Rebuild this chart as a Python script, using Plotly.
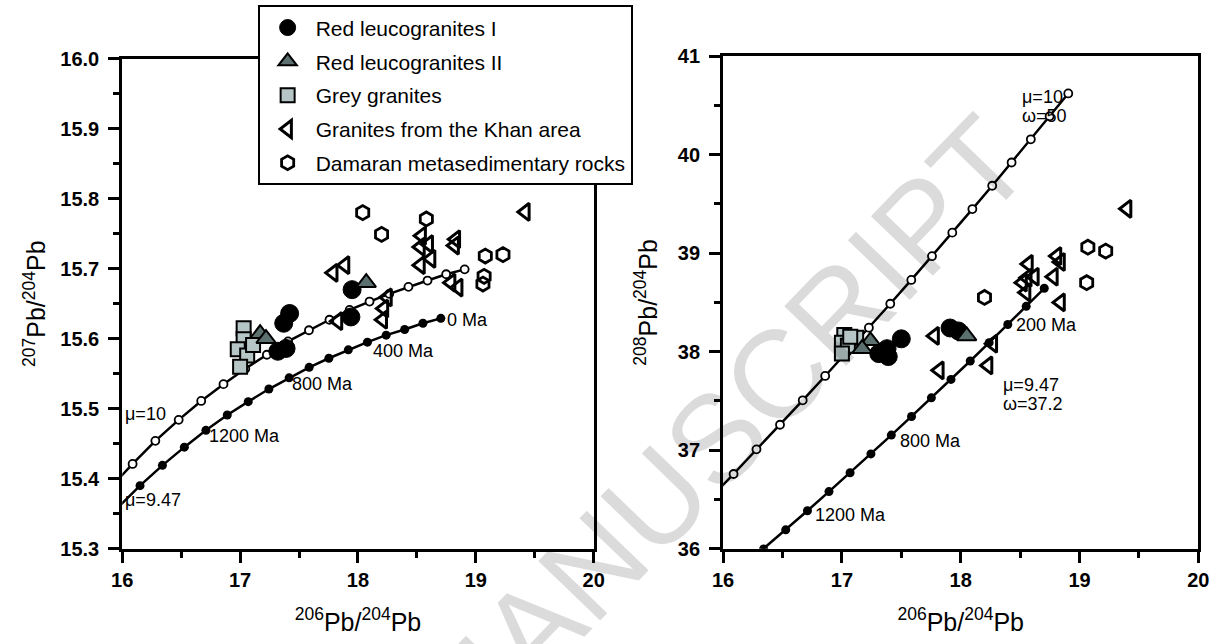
import plotly.graph_objects as go

# Growth-curve nodes, 0-1700 Ma in 100 Ma steps
ages_ma = [0, 100, 200, 300, 400, 500, 600, 700, 800, 900,
           1000, 1100, 1200, 1300, 1400, 1500, 1600, 1700]
pb206_mu10 = [18.905, 18.748, 18.590, 18.428, 18.265, 18.098, 17.929, 17.758, 17.584,
              17.407, 17.227, 17.044, 16.859, 16.670, 16.479, 16.281, 16.088, 15.887]
pb207_mu10 = [15.699, 15.692, 15.683, 15.674, 15.664, 15.653, 15.641, 15.627, 15.612,
              15.596, 15.577, 15.557, 15.535, 15.511, 15.484, 15.454, 15.421, 15.385]
pb208_mu10 = [40.621, 40.389, 40.155, 39.920, 39.684, 39.447, 39.208, 38.969, 38.728,
              38.486, 38.243, 37.998, 37.753, 37.506, 37.258, 37.008, 36.758, 36.506]
pb206_mu947 = [18.703, 18.551, 18.396, 18.239, 18.080, 17.918, 17.753, 17.586, 17.416,
               17.244, 17.069, 16.891, 16.710, 16.527, 16.341, 16.151, 15.959, 15.764]
pb207_mu947 = [15.629, 15.622, 15.613, 15.605, 15.595, 15.584, 15.572, 15.559, 15.544,
               15.528, 15.510, 15.491, 15.469, 15.445, 15.419, 15.390, 15.358, 15.323]
pb208_mu947 = [38.643, 38.460, 38.276, 38.091, 37.905, 37.718, 37.531, 37.342, 37.153,
               36.962, 36.771, 36.579, 36.385, 36.191, 35.996, 35.800, 35.603, 35.405]

# Sample groups: 206Pb/204Pb vs 207Pb/204Pb
rl1_206_a = [17.42, 17.37, 17.32, 17.39, 17.95, 17.94]
rl1_207 = [15.636, 15.622, 15.582, 15.586, 15.670, 15.631]
rl2_206_a = [17.17, 17.22, 18.07]
rl2_207 = [15.607, 15.600, 15.680]
grey_206_a = [17.03, 17.03, 16.98, 17.06, 17.11, 17.00]
grey_207 = [15.615, 15.599, 15.585, 15.576, 15.591, 15.560]
khan_206_a = [19.42, 18.54, 18.53, 18.60, 18.62, 18.53, 18.83, 18.82, 18.79, 18.85,
              17.89, 17.79, 18.25, 18.22, 18.21, 17.83]
khan_207 = [15.781, 15.747, 15.731, 15.735, 15.714, 15.705, 15.742, 15.733, 15.680, 15.673,
            15.705, 15.694, 15.659, 15.643, 15.627, 15.625]
dam_206_a = [18.04, 18.20, 18.58, 19.08, 19.23, 19.07, 19.06]
dam_207 = [15.780, 15.749, 15.771, 15.718, 15.720, 15.689, 15.678]

# Sample groups: 206Pb/204Pb vs 208Pb/204Pb
rl1_206_b = [17.50, 17.38, 17.39, 17.31, 17.91, 17.98]
rl1_208 = [38.13, 38.03, 37.95, 37.98, 38.24, 38.21]
rl2_206_b = [17.24, 17.17, 18.05]
rl2_208 = [38.11, 38.03, 38.16]
grey_206_b = [17.02, 17.12, 17.00, 17.05, 17.00, 17.07]
grey_208 = [38.17, 38.14, 38.09, 38.06, 37.98, 38.15]
khan_206_b = [19.40, 18.81, 18.84, 18.57, 18.56, 18.62, 18.52, 18.55, 18.78, 18.84,
              18.27, 18.23, 17.82, 17.78]
khan_208 = [39.45, 38.97, 38.91, 38.89, 38.75, 38.76, 38.70, 38.60, 38.76, 38.50,
            38.08, 37.86, 37.81, 38.16]
dam_206_b = [18.20, 19.07, 19.22, 19.06]
dam_208 = [38.55, 39.06, 39.02, 38.70]

group_names = ["Red leucogranites I", "Red leucogranites II", "Grey granites",
               "Granites from the Khan area", "Damaran metasedimentary rocks"]

FONT = "Liberation Sans, Arial, sans-serif"
BLACK = "#000000"

styles = {
    group_names[0]: dict(symbol="circle", size=18, color=BLACK, line=dict(color=BLACK, width=1)),
    group_names[1]: dict(symbol="triangle-up", size=17, color="#5c7070", line=dict(color=BLACK, width=2)),
    group_names[2]: dict(symbol="square", size=14, color="#b6c6c6", line=dict(color=BLACK, width=2)),
    group_names[3]: dict(symbol="triangle-left-open", size=15, color=BLACK, line=dict(color=BLACK, width=3)),
    group_names[4]: dict(symbol="hexagon-open", size=14, color=BLACK, line=dict(color=BLACK, width=2.8)),
}

fig = go.Figure()


def add_curves(xa, ya, yvals_10, yvals_947):
    fig.add_trace(go.Scatter(
        x=pb206_mu10, y=yvals_10, mode="lines+markers", xaxis=xa, yaxis=ya,
        line=dict(color=BLACK, width=2.5),
        marker=dict(symbol="circle", size=8, color="white", line=dict(color=BLACK, width=1.8)),
        showlegend=False, hoverinfo="skip"))
    fig.add_trace(go.Scatter(
        x=pb206_mu947, y=yvals_947, mode="lines+markers", xaxis=xa, yaxis=ya,
        line=dict(color=BLACK, width=2.5),
        marker=dict(symbol="circle", size=9, color=BLACK),
        showlegend=False, hoverinfo="skip"))


add_curves("x", "y", pb207_mu10, pb207_mu947)
add_curves("x2", "y2", pb208_mu10, pb208_mu947)

left_sets = {
    group_names[0]: (rl1_206_a, rl1_207), group_names[1]: (rl2_206_a, rl2_207),
    group_names[2]: (grey_206_a, grey_207), group_names[3]: (khan_206_a, khan_207),
    group_names[4]: (dam_206_a, dam_207),
}
right_sets = {
    group_names[0]: (rl1_206_b, rl1_208), group_names[1]: (rl2_206_b, rl2_208),
    group_names[2]: (grey_206_b, grey_208), group_names[3]: (khan_206_b, khan_208),
    group_names[4]: (dam_206_b, dam_208),
}

# draw order (bottom to top); legend order kept via legendrank
draw_order = [group_names[4], group_names[3], group_names[2], group_names[0], group_names[1]]
for name in draw_order:
    rank = group_names.index(name) + 1
    for sets, xa, ya, show in ((left_sets, "x", "y", True), (right_sets, "x2", "y2", False)):
        xs, ys = sets[name]
        fig.add_trace(go.Scatter(
            x=xs, y=ys, mode="markers", name=name, xaxis=xa, yaxis=ya,
            marker=styles[name], showlegend=show, legendrank=rank,
            legendgroup=name))

minor_common = dict(ticks="outside", ticklen=6, tickwidth=3, tickcolor=BLACK)
axis_common = dict(
    showline=True, linecolor=BLACK, linewidth=3, mirror=True,
    ticks="outside", ticklen=11, tickwidth=3, tickcolor=BLACK,
    showgrid=False, zeroline=False,
    tickfont=dict(family=FONT, size=20, color=BLACK, weight="bold"),
)
TITLE_FONT = dict(family=FONT, size=25, color=BLACK)
xtitle = dict(text="<sup>206</sup>Pb/<sup>204</sup>Pb", font=TITLE_FONT, standoff=24)

fig.update_layout(
    width=1231, height=644,
    margin=dict(l=0, r=0, t=0, b=0),
    paper_bgcolor="white", plot_bgcolor="white",
    font=dict(family=FONT, color=BLACK),
    xaxis=dict(domain=[0.0920, 0.4820], range=[16, 20], dtick=1,
               minor=dict(dtick=0.5, **minor_common),
               title=xtitle, anchor="y", **axis_common),
    yaxis=dict(domain=[0.1356, 0.9234], range=[15.3, 16.0], dtick=0.1, tickformat=".1f",
               minor=dict(dtick=0.05, **minor_common), ticklabelstandoff=5,
               title=dict(text="<sup>207</sup>Pb/<sup>204</sup>Pb", font=TITLE_FONT, standoff=8),
               anchor="x", **axis_common),
    xaxis2=dict(domain=[0.5890, 0.9821], range=[16, 20], dtick=1,
                minor=dict(dtick=0.5, **minor_common),
                title=xtitle, anchor="y2", **axis_common),
    yaxis2=dict(domain=[0.1356, 0.9275], range=[36, 41], dtick=1,
                minor=dict(dtick=0.5, **minor_common), ticklabelstandoff=5,
                title=dict(text="<sup>208</sup>Pb/<sup>204</sup>Pb", font=TITLE_FONT, standoff=14),
                anchor="x2", **axis_common),
    legend=dict(x=0.2040, y=1.009, xanchor="left", yanchor="top",
                bgcolor="white", bordercolor=BLACK, borderwidth=2,
                font=dict(family=FONT, size=21, color=BLACK),
                itemwidth=46, tracegroupgap=3.5, traceorder="grouped"),
    showlegend=True,
)

# curve labels: (x axis, y axis, x, y, text, pixel shift)
labels = [
    ("x", "y", 18.74, 15.627, "0 Ma", 0),
    ("x", "y", 18.11, 15.583, "400 Ma", 0),
    ("x", "y", 17.42, 15.535, "800 Ma", 0),
    ("x", "y", 16.72, 15.461, "1200 Ma", 0),
    ("x", "y", 16.0, 15.492, "μ=10", 1),
    ("x", "y", 16.0, 15.369, "μ=9.47", 1),
    ("x2", "y2", 18.50, 40.58, "μ=10", 0),
    ("x2", "y2", 18.50, 40.39, "ω=50", 0),
    ("x2", "y2", 18.45, 38.27, "200 Ma", 0),
    ("x2", "y2", 18.34, 37.66, "μ=9.47", 0),
    ("x2", "y2", 18.34, 37.47, "ω=37.2", 0),
    ("x2", "y2", 17.47, 37.09, "800 Ma", 0),
    ("x2", "y2", 16.76, 36.34, "1200 Ma", 0),
]
for xr, yr, xv, yv, txt, dx in labels:
    fig.add_annotation(x=xv, y=yv, xref=xr, yref=yr, text=txt, showarrow=False,
                       xanchor="left", yanchor="middle", xshift=dx,
                       font=dict(family=FONT, size=18, color=BLACK))

# diagonal watermark
fig.add_annotation(x=0.585, y=0.318, xref="paper", yref="paper", text="MANUSCRIPT",
                   showarrow=False, textangle=-46, xanchor="center", yanchor="middle",
                   font=dict(family=FONT, size=125, color="rgba(0,0,0,0.14)"))

fig.write_html("out.html")
